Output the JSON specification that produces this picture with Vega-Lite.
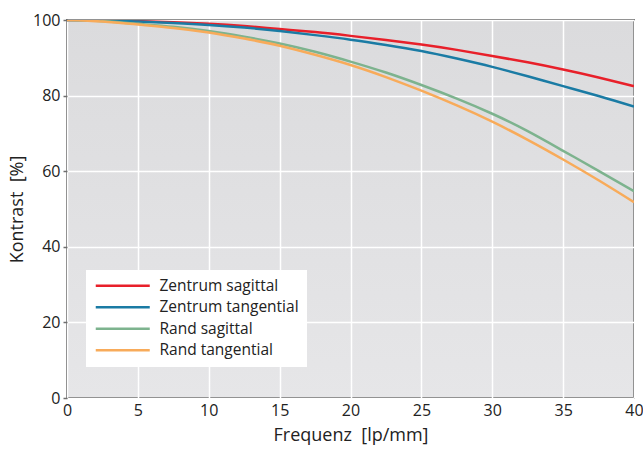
{
  "$schema": "https://vega.github.io/schema/vega-lite/v6.json",
  "autosize": {"type": "none"},
  "padding": {"left": 67, "top": 20, "right": 9, "bottom": 54},
  "width": 567,
  "height": 378,
  "background": "white",
  "config": {
    "font": "Open Sans",
    "view": {
      "stroke": "#6e6e6e",
      "strokeWidth": 2,
      "fill": {"gradient": "linear", "x1": 0, "y1": 0, "x2": 0, "y2": 1,
        "stops": [{"offset": 0, "color": "#dbdbdd"}, {"offset": 1, "color": "#e6e6e8"}]}
    }
  },
  "data": {"values": [
    {"f": 0, "s": "Zentrum sagittal", "k": 100},
    {"f": 2.5, "s": "Zentrum sagittal", "k": 99.9},
    {"f": 5, "s": "Zentrum sagittal", "k": 99.7},
    {"f": 7.5, "s": "Zentrum sagittal", "k": 99.4},
    {"f": 10, "s": "Zentrum sagittal", "k": 99.0},
    {"f": 12.5, "s": "Zentrum sagittal", "k": 98.4},
    {"f": 15, "s": "Zentrum sagittal", "k": 97.6},
    {"f": 17.5, "s": "Zentrum sagittal", "k": 96.8},
    {"f": 20, "s": "Zentrum sagittal", "k": 95.8},
    {"f": 22.5, "s": "Zentrum sagittal", "k": 94.7},
    {"f": 25, "s": "Zentrum sagittal", "k": 93.5},
    {"f": 27.5, "s": "Zentrum sagittal", "k": 92.1},
    {"f": 30, "s": "Zentrum sagittal", "k": 90.5},
    {"f": 32.5, "s": "Zentrum sagittal", "k": 88.8},
    {"f": 35, "s": "Zentrum sagittal", "k": 86.9},
    {"f": 37.5, "s": "Zentrum sagittal", "k": 84.8},
    {"f": 40, "s": "Zentrum sagittal", "k": 82.5},
    {"f": 0, "s": "Zentrum tangential", "k": 100},
    {"f": 2.5, "s": "Zentrum tangential", "k": 99.9},
    {"f": 5, "s": "Zentrum tangential", "k": 99.6},
    {"f": 7.5, "s": "Zentrum tangential", "k": 99.2},
    {"f": 10, "s": "Zentrum tangential", "k": 98.7},
    {"f": 12.5, "s": "Zentrum tangential", "k": 98.0},
    {"f": 15, "s": "Zentrum tangential", "k": 97.1},
    {"f": 17.5, "s": "Zentrum tangential", "k": 96.0},
    {"f": 20, "s": "Zentrum tangential", "k": 94.8},
    {"f": 22.5, "s": "Zentrum tangential", "k": 93.4},
    {"f": 25, "s": "Zentrum tangential", "k": 91.8},
    {"f": 27.5, "s": "Zentrum tangential", "k": 89.8},
    {"f": 30, "s": "Zentrum tangential", "k": 87.6},
    {"f": 32.5, "s": "Zentrum tangential", "k": 85.1},
    {"f": 35, "s": "Zentrum tangential", "k": 82.5},
    {"f": 37.5, "s": "Zentrum tangential", "k": 79.9},
    {"f": 40, "s": "Zentrum tangential", "k": 77.1},
    {"f": 0, "s": "Rand sagittal", "k": 100},
    {"f": 2.5, "s": "Rand sagittal", "k": 99.7},
    {"f": 5, "s": "Rand sagittal", "k": 99.0},
    {"f": 7.5, "s": "Rand sagittal", "k": 98.2},
    {"f": 10, "s": "Rand sagittal", "k": 97.1},
    {"f": 12.5, "s": "Rand sagittal", "k": 95.6},
    {"f": 15, "s": "Rand sagittal", "k": 93.8},
    {"f": 17.5, "s": "Rand sagittal", "k": 91.6},
    {"f": 20, "s": "Rand sagittal", "k": 89.0},
    {"f": 22.5, "s": "Rand sagittal", "k": 86.1},
    {"f": 25, "s": "Rand sagittal", "k": 82.8},
    {"f": 27.5, "s": "Rand sagittal", "k": 79.2},
    {"f": 30, "s": "Rand sagittal", "k": 75.2},
    {"f": 32.5, "s": "Rand sagittal", "k": 70.6},
    {"f": 35, "s": "Rand sagittal", "k": 65.4},
    {"f": 37.5, "s": "Rand sagittal", "k": 60.1},
    {"f": 40, "s": "Rand sagittal", "k": 54.7},
    {"f": 0, "s": "Rand tangential", "k": 100},
    {"f": 2.5, "s": "Rand tangential", "k": 99.6},
    {"f": 5, "s": "Rand tangential", "k": 98.8},
    {"f": 7.5, "s": "Rand tangential", "k": 97.9},
    {"f": 10, "s": "Rand tangential", "k": 96.7},
    {"f": 12.5, "s": "Rand tangential", "k": 95.1},
    {"f": 15, "s": "Rand tangential", "k": 93.2},
    {"f": 17.5, "s": "Rand tangential", "k": 90.8},
    {"f": 20, "s": "Rand tangential", "k": 88.1},
    {"f": 22.5, "s": "Rand tangential", "k": 84.9},
    {"f": 25, "s": "Rand tangential", "k": 81.3},
    {"f": 27.5, "s": "Rand tangential", "k": 77.4},
    {"f": 30, "s": "Rand tangential", "k": 73.1},
    {"f": 32.5, "s": "Rand tangential", "k": 68.3},
    {"f": 35, "s": "Rand tangential", "k": 63.1},
    {"f": 37.5, "s": "Rand tangential", "k": 57.6},
    {"f": 40, "s": "Rand tangential", "k": 51.8}
  ]},
  "mark": {"type": "line", "interpolate": "natural", "strokeWidth": 2.5, "clip": true},
  "encoding": {
    "x": {
      "field": "f", "type": "quantitative",
      "scale": {"domain": [0, 40], "nice": false},
      "axis": {
        "title": "Frequenz \u00a0[lp/mm]", "values": [0, 5, 10, 15, 20, 25, 30, 35, 40],
        "domain": false, "ticks": false, "grid": true, "gridColor": "white", "gridWidth": 1.5, "gridOpacity": 1,
        "labelFontSize": 16, "labelColor": "#222", "labelPadding": 4, "labelFlush": false,
        "titleFontSize": 18, "titleFontWeight": "normal", "titleColor": "#222", "titlePadding": 8
      }
    },
    "y": {
      "field": "k", "type": "quantitative",
      "scale": {"domain": [0, 100], "nice": false},
      "axis": {
        "title": "Kontrast \u00a0[%]", "values": [0, 20, 40, 60, 80, 100],
        "domain": false, "ticks": true, "tickSize": 4, "tickColor": "#6e6e6e", "tickWidth": 1.5,
        "grid": true, "gridColor": "white", "gridWidth": 1.5, "gridOpacity": 1,
        "labelFontSize": 16, "labelColor": "#222", "labelPadding": 3,
        "titleFontSize": 18, "titleFontWeight": "normal", "titleColor": "#222", "titlePadding": 6
      }
    },
    "color": {
      "field": "s", "type": "nominal",
      "scale": {
        "domain": ["Zentrum sagittal", "Zentrum tangential", "Rand sagittal", "Rand tangential"],
        "range": ["#e8202a", "#1a7ba4", "#7db38e", "#f8ab5a"]
      },
      "legend": {
        "title": null, "orient": "none", "legendX": 19, "legendY": 250,
        "fillColor": "white", "padding": 8, "symbolType": "M-1.5,0H12", "symbolSize": 64,
        "symbolStrokeWidth": 2.5, "labelFontSize": 15.5, "labelColor": "#222", "labelOffset": 50,
        "rowPadding": 4.5, "labelLimit": 300
      }
    }
  }
}
